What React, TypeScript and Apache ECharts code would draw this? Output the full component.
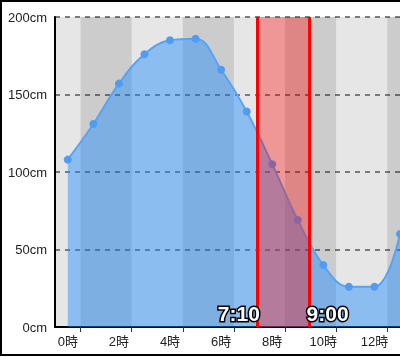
import React, { useEffect, useRef } from 'react';
import * as echarts from 'echarts';

const hours = [0, 1, 2, 3, 4, 5, 6, 7, 8, 9, 10, 11, 12, 13];
const tideCm = [108, 131, 157, 176, 185, 186, 166, 139, 105, 69, 40, 26, 26, 60];
const labelHours = [0, 2, 4, 6, 8, 10, 12];
const tickHours = [0.5, 2.5, 4.5, 6.5, 8.5, 10.5, 12.5];
const darkBands = [[0.5, 2.5], [4.5, 6.5], [8.5, 10.5], [12.5, 13]];
const rangeLabels = ['7:10', '9:00'];
const rangeHours = [7.4, 9.46];
const labelLevelCm = 8.5;

const FONT = '"Liberation Sans", Arial, "Noto Sans CJK JP", sans-serif';

export default function App() {
  const ref = useRef<HTMLDivElement>(null);
  useEffect(() => {
    if (!ref.current) return;
    const chart = echarts.init(ref.current, null, { renderer: 'svg' });
    chart.setOption({
      animation: false,
      textStyle: { fontFamily: FONT },
      grid: { left: 55, top: 17, right: 0, bottom: 30, show: true, backgroundColor: '#e6e6e6', borderWidth: 0 },
      xAxis: {
        type: 'value',
        min: -0.5,
        max: 13,
        axisLine: { show: true, onZero: false, lineStyle: { color: '#000', width: 2 } },
        axisTick: { show: true, customValues: tickHours, length: 5, lineStyle: { color: '#333' } },
        axisLabel: { customValues: labelHours, formatter: '{value}時', fontSize: 13, color: '#222', margin: 8, fontFamily: FONT },
        splitLine: { show: false },
      },
      yAxis: {
        type: 'value',
        min: 0,
        max: 200,
        interval: 50,
        axisLine: { show: true, onZero: false, lineStyle: { color: '#000', width: 2 } },
        axisTick: { show: false },
        axisLabel: { formatter: '{value}cm', fontSize: 13, color: '#222', margin: 8, fontFamily: FONT },
        splitLine: { lineStyle: { type: [5, 5], color: '#555', width: 1.5 } },
      },
      series: [
        {
          type: 'line',
          data: hours.map((h, i) => [h, tideCm[i]]),
          smooth: 0.4,
          symbol: 'circle',
          symbolSize: 8,
          itemStyle: { color: '#4f9cf5' },
          lineStyle: { color: '#5aa2f2', width: 2 },
          areaStyle: { color: 'rgba(30,140,255,0.45)', opacity: 1 },
          markArea: {
            silent: true,
            itemStyle: { color: 'rgba(0,0,0,0.11)' },
            data: darkBands.map(([a, b]) => [{ xAxis: a }, { xAxis: b }]),
          },
        },
        {
          type: 'line',
          data: [],
          markArea: {
            silent: true,
            z: 10,
            itemStyle: { color: 'rgba(255,0,0,0.35)' },
            data: [[{ xAxis: rangeHours[0] }, { xAxis: rangeHours[1] }]],
          },
          markLine: {
            silent: true,
            z: 11,
            symbol: ['none', 'none'],
            lineStyle: { color: '#ff0000', width: 3, type: 'solid' },
            label: { show: false },
            data: rangeHours.map((h) => ({ xAxis: h })),
          },
          markPoint: {
            silent: true,
            z: 12,
            symbol: 'circle',
            symbolSize: 0,
            data: rangeHours.map((h, i) => ({
              coord: [h, labelLevelCm],
              label: {
                show: true,
                formatter: rangeLabels[i],
                position: i === 0 ? 'left' : 'right',
                distance: -3,
                fontSize: 21,
                fontWeight: 'bold',
                fontFamily: FONT,
                color: '#fff',
                textBorderColor: '#000',
                textBorderWidth: 3,
              },
            })),
          },
        },
      ],
      graphic: [
        {
          type: 'rect',
          silent: true,
          z: 100,
          shape: { x: 1, y: 1, width: 420, height: 354 },
          style: { fill: 'transparent', stroke: '#000', lineWidth: 2 },
        },
      ],
    });
    return () => chart.dispose();
  }, []);
  return <div ref={ref} style={{ position: 'fixed', left: 0, top: 0, width: 400, height: 357 }} />;
}
